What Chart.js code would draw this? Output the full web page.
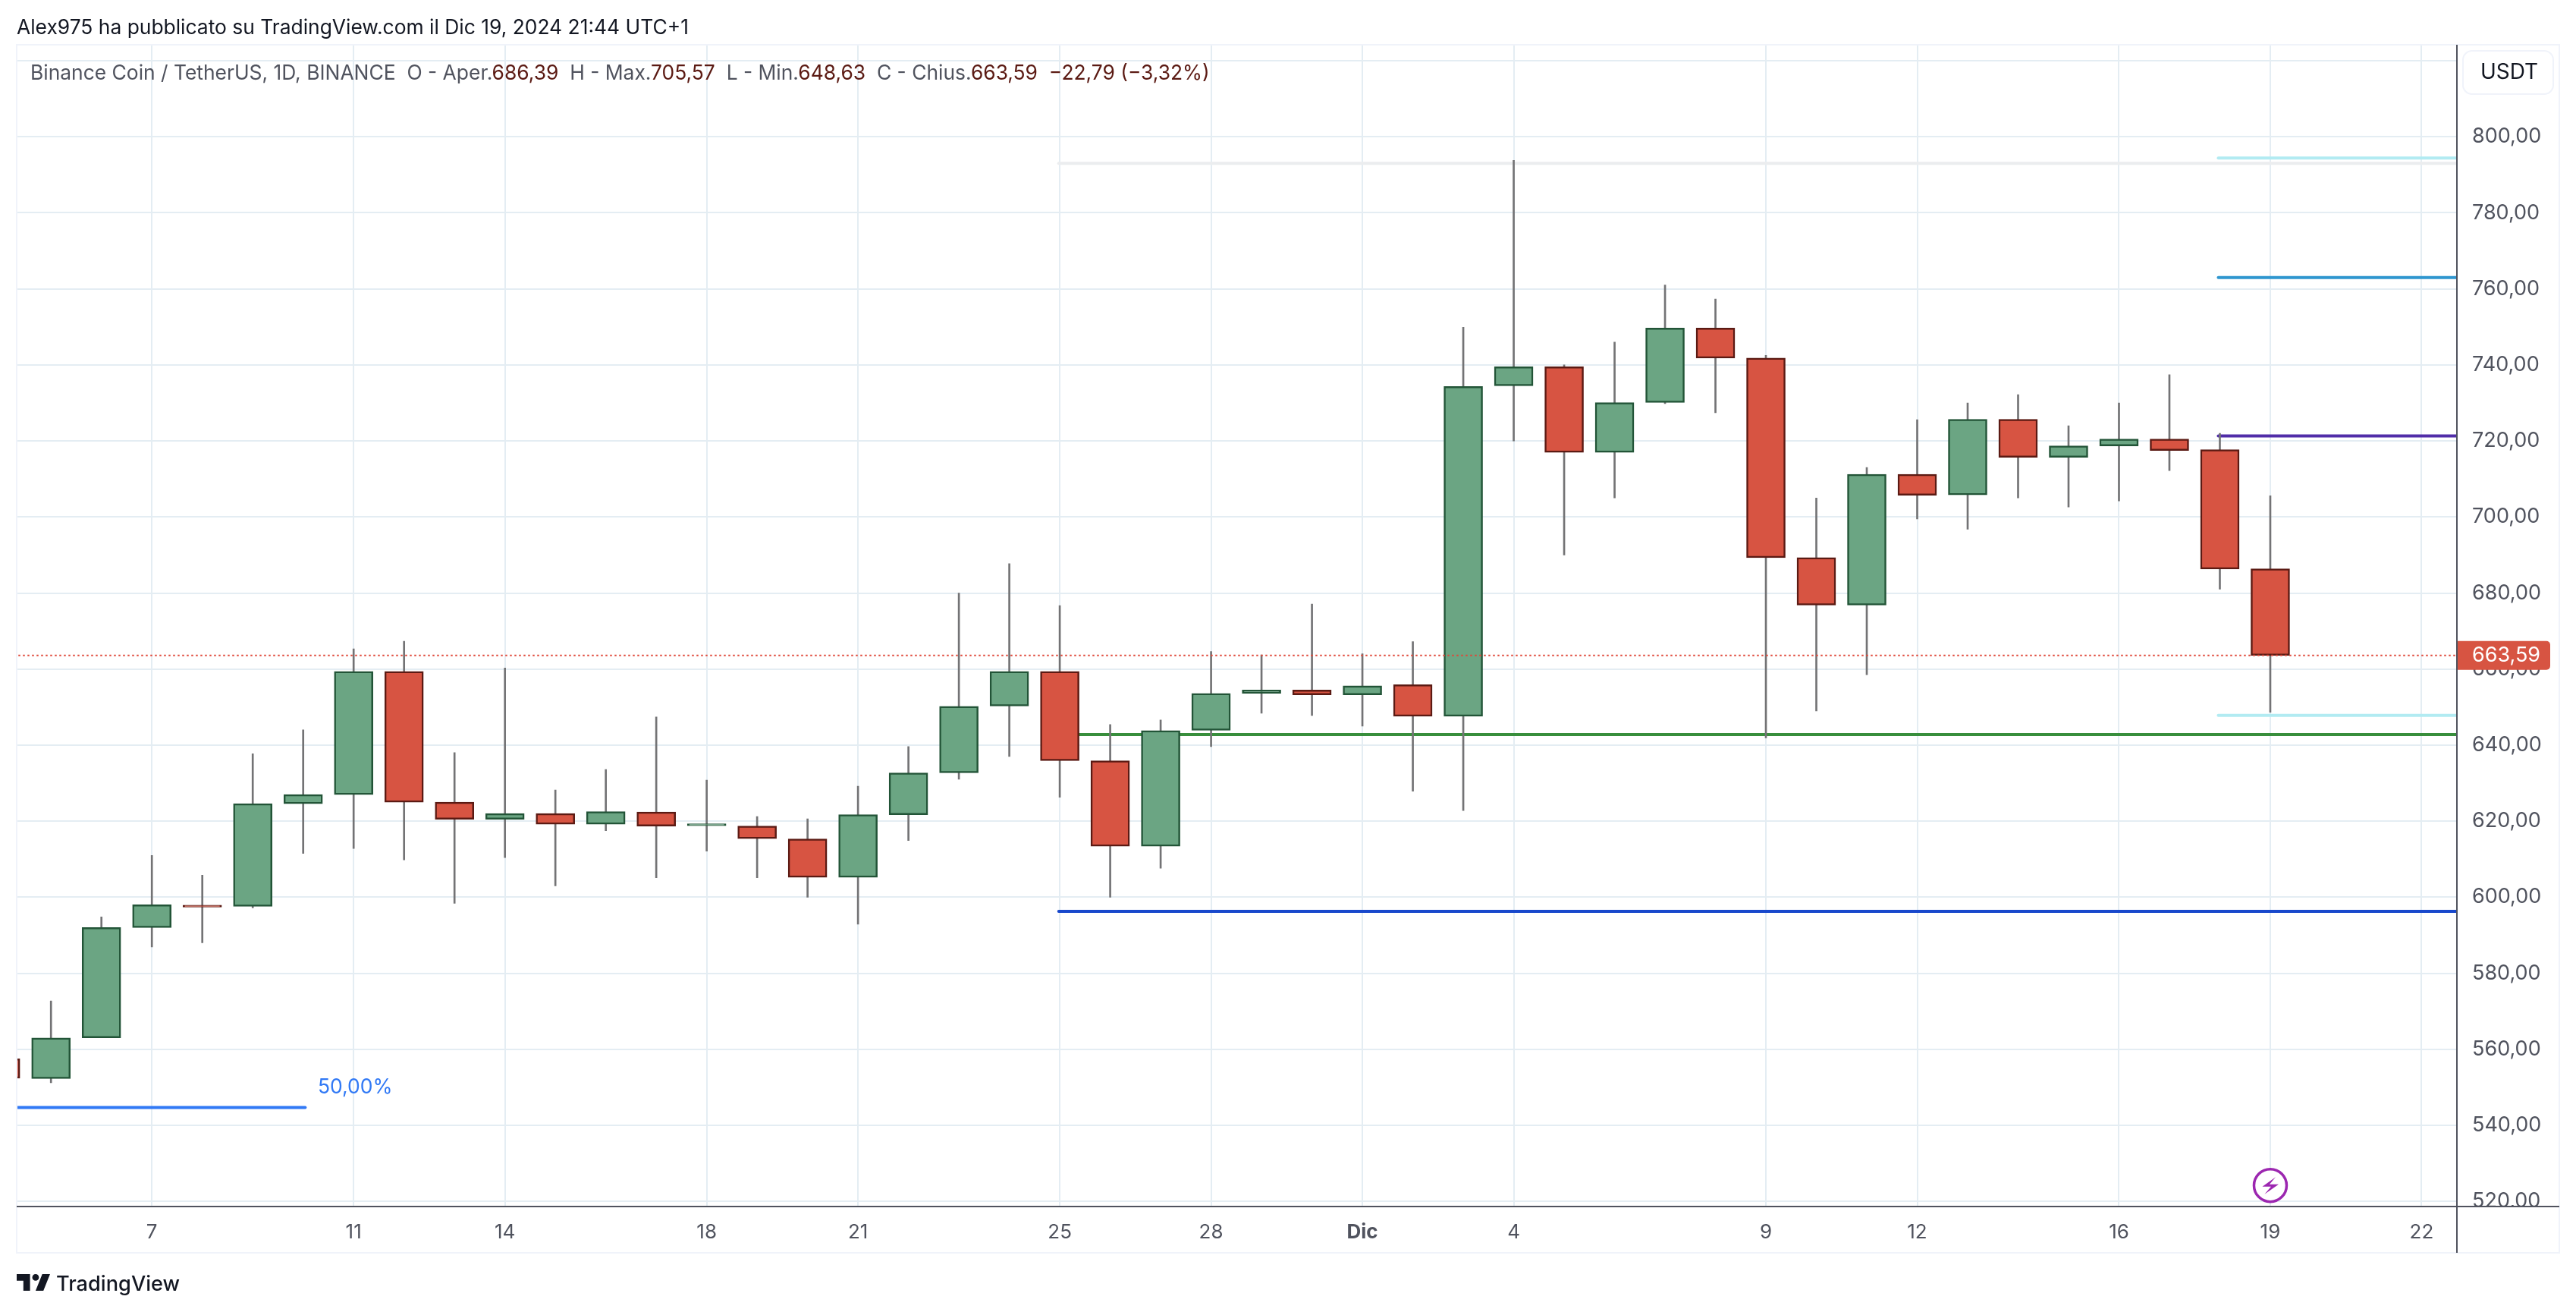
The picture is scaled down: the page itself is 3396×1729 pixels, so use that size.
<!DOCTYPE html>
<html lang="it">
<head>
<meta charset="utf-8">
<title>Binance Coin / TetherUS</title>
<script src="https://cdn.jsdelivr.net/npm/chart.js@4/dist/chart.umd.min.js"></script>
<style>
    html, body { margin: 0; background: #fff; }
    body { width: 3396px; height: 1729px; position: relative; overflow: hidden; font-family: Inter, sans-serif; }
    canvas { position: absolute; left: 0; top: 0; }
    .txt { position: absolute; white-space: pre; line-height: 1; }
    #title { left: 22px; top: 22px; font-size: 26.4px; color: #131722; }
    #legend { left: 40px; top: 82px; font-size: 26.4px; color: #50535e; }
    #legend b { font-weight: 400; color: #5b1a13; }
    #logo { position: absolute; left: 22px; top: 1679px; }
    #brand { left: 74px; top: 1678px; font-size: 27.2px; font-weight: 500; color: #131722; }
</style>
</head>
<body>
<canvas id="chart" width="3396" height="1729"></canvas>
<div class="txt" id="title">Alex975 ha pubblicato su TradingView.com il Dic 19, 2024 21:44 UTC+1</div>
<div class="txt" id="legend">Binance Coin / TetherUS, 1D, BINANCE  O - Aper.<b>686,39</b>  H - Max.<b>705,57</b>  L - Min.<b>648,63</b>  C - Chius.<b>663,59</b>  <b>−22,79 (−3,32%)</b></div>
<svg id="logo" width="44" height="22" viewBox="2 6 30 15"><path fill="#131722" d="M14 6H2v6h6v9h6V6Zm12 15h-7l6-15h7l-6 15Zm-7-9a3 3 0 1 0 0-6 3 3 0 0 0 0 6Z"/></svg>
<div class="txt" id="brand">TradingView</div>
<script>
// days counted from Nov 7, 2024
const candleDays = [-3, -2, -1, 0, 1, 2, 3, 4, 5, 6, 7, 8, 9, 10, 11, 12, 13, 14, 15, 16, 17, 18, 19, 20, 21, 22, 23, 24, 25, 26, 27, 28, 29, 30, 31, 32, 33, 34, 35, 36, 37, 38, 39, 40, 41, 42];
const opens = [557.5, 552.3, 563, 592, 597.9, 597.6, 624.6, 627, 659.4, 625, 620.5, 622, 619.2, 622.4, 618.8, 618.7, 615.3, 605.2, 621.7, 632.7, 650.3, 659.4, 635.9, 613.4, 643.9, 653.6, 654.5, 653.2, 655.9, 647.6, 734.5, 739.5, 717, 730.1, 749.7, 741.8, 689.3, 676.8, 711.2, 705.8, 725.7, 715.7, 718.7, 720.5, 717.7, 686.39];
const highs = [562, 572.7, 594.8, 611, 605.8, 637.7, 644, 665.3, 667.3, 638, 660.3, 628.2, 633.6, 647.4, 630.8, 621.2, 620.6, 629.2, 639.6, 680, 687.7, 676.7, 645.4, 646.6, 664.6, 663.7, 677.1, 664, 667.2, 749.9, 793.8, 740, 746, 761, 757.3, 742.5, 705, 713, 725.6, 730, 732.2, 724, 730, 737.4, 722, 705.57];
const lows = [548, 551.2, 563, 586.9, 588, 597.2, 611.5, 612.8, 609.8, 598.4, 610.4, 603, 617.5, 605.1, 612.1, 605.1, 600, 592.9, 614.9, 631, 637, 626.3, 600, 607.6, 639.6, 648.4, 647.8, 645, 627.9, 622.8, 720, 690, 705, 729.8, 727.4, 641.9, 649, 658.5, 699.5, 696.8, 705, 702.6, 704.2, 712.2, 681, 648.63];
const closes = [552.4, 563, 592, 598, 597.4, 624.6, 627, 659.4, 625, 620.5, 622, 619.2, 622.5, 618.7, 619.3, 615.4, 605.2, 621.7, 632.7, 650.2, 659.4, 635.9, 613.4, 643.8, 653.6, 654.5, 653.2, 655.6, 647.6, 734.3, 739.5, 717, 730.1, 749.7, 741.8, 689.3, 676.8, 711.2, 705.7, 725.7, 715.7, 718.7, 720.5, 717.5, 686.3, 663.59];

const tickDays = [0, 4, 7, 11, 14, 18, 21, 24, 27, 32, 35, 39, 42, 45];
const tickLabels = ['7', '11', '14', '18', '21', '25', '28', 'Dic', '4', '9', '12', '16', '19', '22'];
const priceTicks = [520, 540, 560, 580, 600, 620, 640, 660, 680, 700, 720, 740, 760, 780, 800, 820];

// drawn levels: price, first day, last day
const levelPrices = [793, 642.8, 596.3, 794.4, 763, 721.3, 647.8, 544.7];
const levelStarts = [17.98, 17.98, 17.98, 40.97, 40.97, 40.97, 40.97, -4];
const levelEnds = [46, 46, 46, 46, 46, 46, 46, 3.04];
const levelColors = ['#ebedef', '#388e3c', '#1848cc', '#b2ebf2', '#2e96cf', '#512da8', '#b2ebf2', '#3179f5'];

const fibLabel = { text: '50,00%', day: 4.03, price: 550 };
const lastPrice = 663.59;
const lastDay = 42;
const boltPrice = 524.2;

const GREEN = '#6ba583', GREEN_BORDER = '#225437';
const RED = '#d75442', RED_BORDER = '#5b1a13';
const GRID = '#e4edf3', AXIS = '#50535e', FRAME = '#f0f3fa';
const FONT = 'Inter, sans-serif';

const isUp = closes.map((c, i) => c >= opens[i]);
const fmt = v => v.toFixed(2).replace('.', ',');

const levelDatasets = levelPrices.map((price, i) => ({
    type: 'line',
    data: [{ x: levelStarts[i], y: price }, { x: levelEnds[i], y: price }],
    borderColor: levelColors[i],
    borderWidth: 4,
    borderCapStyle: 'round',
    pointRadius: 0,
    order: 4
}));

// price axis pieces, tag and badge sit above everything
const overlays = {
    id: 'overlays',
    afterDatasetsDraw(chart) {
        const { ctx, chartArea: a, scales: { x, y } } = chart;
        ctx.save();

        // 50% label of the fib level
        ctx.font = '26.5px ' + FONT;
        ctx.fillStyle = '#3179f5';
        ctx.textAlign = 'center';
        ctx.textBaseline = 'middle';
        ctx.fillText(fibLabel.text, x.getPixelForValue(fibLabel.day), y.getPixelForValue(fibLabel.price));

        // bottom of the price scale is cut by the time axis
        ctx.fillStyle = '#fff';
        ctx.fillRect(a.right, a.bottom, 3374 - a.right, 1651 - a.bottom);

        // frame
        ctx.strokeStyle = FRAME;
        ctx.lineWidth = 2;
        ctx.strokeRect(22, 59, 3374 - 22, 1651 - 59);

        // axis lines
        ctx.strokeStyle = AXIS;
        ctx.lineWidth = 2;
        ctx.beginPath();
        ctx.moveTo(22, 1590);
        ctx.lineTo(3374, 1590);
        ctx.moveTo(3239, 59);
        ctx.lineTo(3239, 1651);
        ctx.stroke();

        // last price tag
        const py = y.getPixelForValue(lastPrice);
        ctx.fillStyle = RED;
        ctx.beginPath();
        ctx.roundRect(a.right + 1, py - 19, 122, 38, [0, 5, 5, 0]);
        ctx.fill();
        ctx.fillStyle = '#fff';
        ctx.font = '27px ' + FONT;
        ctx.textAlign = 'left';
        ctx.fillText(fmt(lastPrice), 3259, py);

        // currency box
        ctx.fillStyle = '#fff';
        ctx.strokeStyle = FRAME;
        ctx.lineWidth = 2;
        ctx.beginPath();
        ctx.roundRect(3247, 67, 119, 57, 12);
        ctx.fill();
        ctx.stroke();
        ctx.fillStyle = '#131722';
        ctx.font = '28px ' + FONT;
        ctx.textAlign = 'center';
        ctx.fillText('USDT', 3308, 96);

        // earnings style badge
        const bx = x.getPixelForValue(lastDay), by = y.getPixelForValue(boltPrice);
        ctx.beginPath();
        ctx.arc(bx, by, 21.5, 0, Math.PI * 2);
        ctx.fillStyle = '#fff';
        ctx.fill();
        ctx.strokeStyle = '#9c27b0';
        ctx.lineWidth = 3.5;
        ctx.stroke();
        ctx.fillStyle = '#9c27b0';
        ctx.beginPath();
        ctx.moveTo(bx + 7, by - 11);
        ctx.lineTo(bx - 10.5, by + 1.5);
        ctx.lineTo(bx + 1, by + 1.5);
        ctx.lineTo(bx - 7.5, by + 11.5);
        ctx.lineTo(bx + 11, by - 1.5);
        ctx.lineTo(bx - 1, by - 1.5);
        ctx.closePath();
        ctx.fill();

        ctx.restore();
    }
};

new Chart(document.getElementById('chart'), {
    type: 'bar',
    data: {
        datasets: [
            ...levelDatasets,
            {
                // wicks
                data: candleDays.map((d, i) => ({ x: d, y: [lows[i], highs[i]] })),
                backgroundColor: '#737375',
                barThickness: 2,
                order: 3
            },
            {
                // bodies
                data: candleDays.map((d, i) => ({ x: d, y: [opens[i], closes[i]] })),
                backgroundColor: isUp.map(u => u ? GREEN : RED),
                borderColor: isUp.map(u => u ? GREEN_BORDER : RED_BORDER),
                borderWidth: 2.5,
                borderSkipped: false,
                barThickness: 51,
                order: 2
            },
            {
                // last price
                type: 'line',
                data: [{ x: -4, y: lastPrice }, { x: 46, y: lastPrice }],
                borderColor: '#e0483a',
                borderWidth: 2.2,
                borderDash: [2.5, 3.5],
                pointRadius: 0,
                order: 1
            }
        ]
    },
    options: {
        responsive: false,
        animation: false,
        devicePixelRatio: 1,
        grouped: false,
        layout: { padding: { left: 22, top: 59, right: 22, bottom: 78 } },
        plugins: { legend: { display: false }, tooltip: { enabled: false } },
        scales: {
            x: {
                type: 'linear',
                offset: false,
                min: -2.68,
                max: 45.7,
                afterBuildTicks: scale => { scale.ticks = tickDays.map(v => ({ value: v })); },
                afterFit: scale => { scale.height = 60.3; },
                border: { display: false },
                grid: { offset: false, color: GRID, lineWidth: 2, drawTicks: false },
                ticks: {
                    autoSkip: false,
                    maxRotation: 0,
                    padding: 18,
                    color: AXIS,
                    font: ctx => ({ family: FONT, size: 26, weight: ctx.tick && ctx.tick.value === 24 ? '700' : '400' }),
                    callback: v => tickLabels[tickDays.indexOf(v)]
                }
            },
            y: {
                position: 'right',
                min: 518.5,
                max: 824.2,
                afterBuildTicks: scale => { scale.ticks = priceTicks.map(v => ({ value: v })); },
                afterFit: scale => { scale.width = 135; },
                border: { display: false },
                grid: { color: GRID, lineWidth: 2, drawTicks: false },
                ticks: {
                    padding: 20,
                    color: AXIS,
                    font: { family: FONT, size: 27 },
                    callback: v => v === 820 ? '' : fmt(v)
                }
            }
        }
    },
    plugins: [overlays]
});
</script>
</body>
</html>
